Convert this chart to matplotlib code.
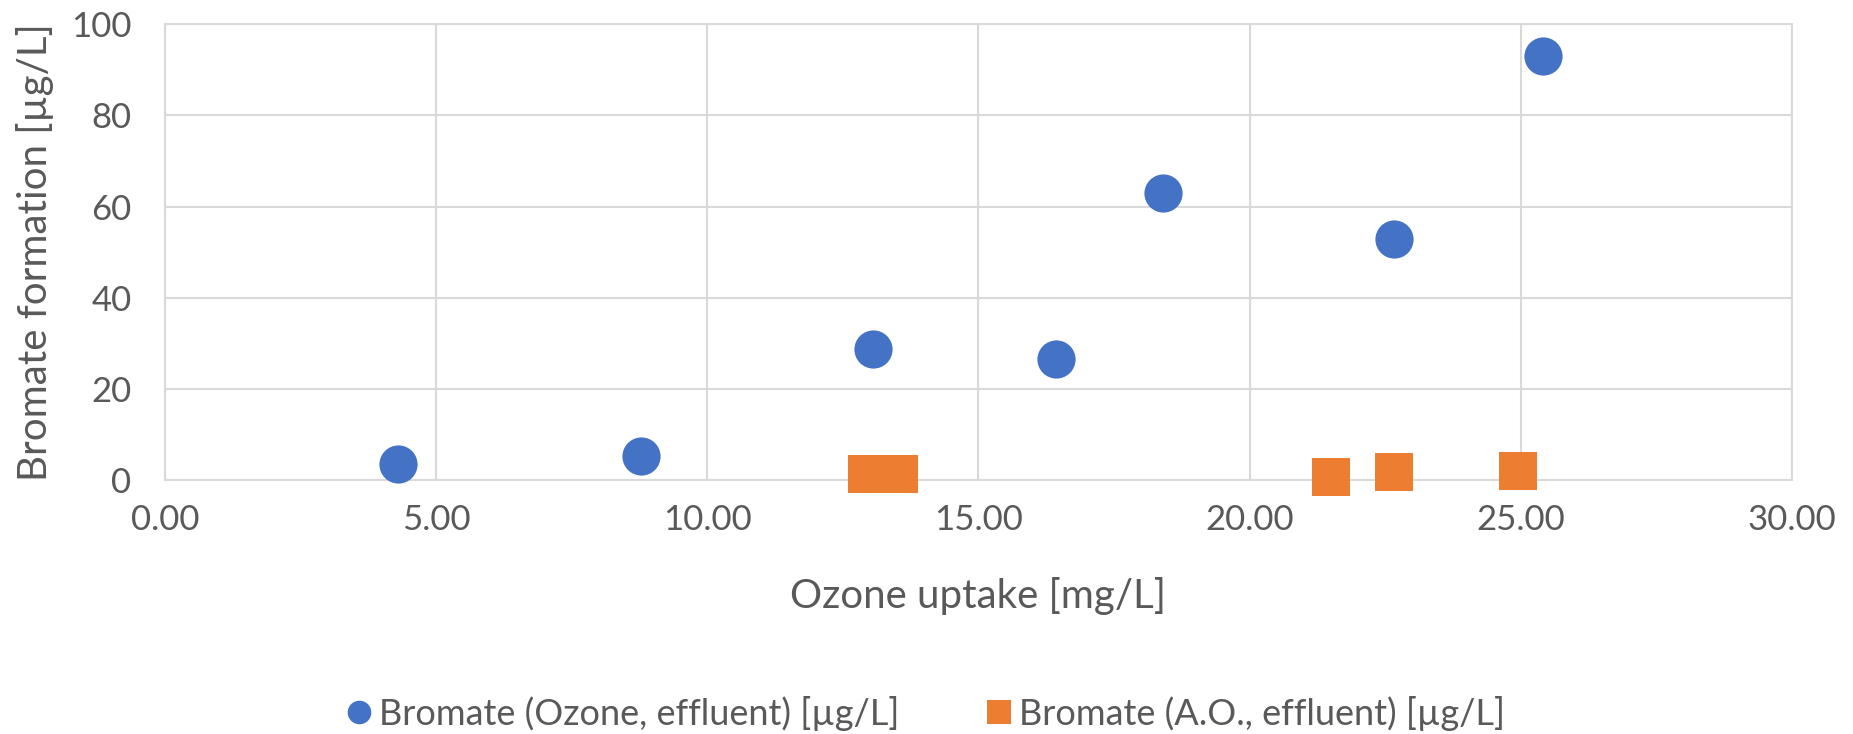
"""
Bromate formation versus ozone uptake, scatter chart
"""

import matplotlib
matplotlib.use("Agg")
import matplotlib.pyplot as plt
from matplotlib.lines import Line2D

# Data
ozone_uptake = [4.30, 8.78, 13.05, 16.43, 18.41, 22.66, 25.41]
bromate_ozone = [3.5, 5.3, 28.8, 26.5, 62.9, 52.9, 93.0]

ao_uptake = [12.95, 13.53, 21.51, 22.66, 24.95]
bromate_ao = [1.3, 1.3, 0.7, 1.8, 2.0]

x_ticks = [0, 5, 10, 15, 20, 25, 30]
y_ticks = [0, 20, 40, 60, 80, 100]

series_labels = ["Bromate (Ozone, effluent) [µg/L]", "Bromate (A.O., effluent) [µg/L]"]
BLUE = "#4472C4"
ORANGE = "#ED7D31"
GRID = "#D9D9D9"
TEXT = "#595959"

plt.rcParams['font.family'] = ['Lato', 'DejaVu Sans']

fig = plt.figure(figsize=(18.53, 7.34), dpi=100)
ax = fig.add_axes([0.089, 0.346, 0.878, 0.621])

# Markers (~38 px across), not clipped at the x axis
ax.scatter(ozone_uptake, bromate_ozone, s=27.5 ** 2, marker='o', color=BLUE, zorder=3, linewidths=0, clip_on=False)
ax.scatter(ao_uptake, bromate_ao, s=28 ** 2, marker='s', color=ORANGE, zorder=3, linewidths=0, clip_on=False)

ax.set_xlim(0, 30)
ax.set_ylim(0, 100)
ax.set_xticks(x_ticks)
ax.set_yticks(y_ticks)
ax.set_xticklabels([f"{v:.2f}" for v in x_ticks])
ax.set_yticklabels([str(v) for v in y_ticks])

# Excel style gridlines and plot area border
ax.grid(True, color=GRID, linewidth=1.5)
ax.set_axisbelow(True)
for side in ax.spines.values():
    side.set_color(GRID)
    side.set_linewidth(1.5)
ax.tick_params(length=0, labelsize=25, labelcolor=TEXT)
ax.tick_params(axis='x', pad=17)
ax.tick_params(axis='y', pad=24)

ax.set_xlabel("Ozone uptake [mg/L]", fontsize=29, color=TEXT, labelpad=30)
ax.set_ylabel("Bromate formation [µg/L]", fontsize=29, color=TEXT, labelpad=12)

# Legend below the chart
legend_elements = [
    Line2D([0], [0], marker='o', color='none', markerfacecolor=BLUE, markeredgewidth=0, markersize=17, label=series_labels[0]),
    Line2D([0], [0], marker='s', color='none', markerfacecolor=ORANGE, markeredgewidth=0, markersize=17, label=series_labels[1]),
]
leg = fig.legend(handles=legend_elements, loc='center', bbox_to_anchor=(0.5, 0.028), ncol=2, frameon=False,
                 fontsize=26, handlelength=0.6, handletextpad=0.25, columnspacing=2.45)
for t in leg.get_texts():
    t.set_color(TEXT)

fig.savefig("out.png", dpi=100)
plt.close(fig)
